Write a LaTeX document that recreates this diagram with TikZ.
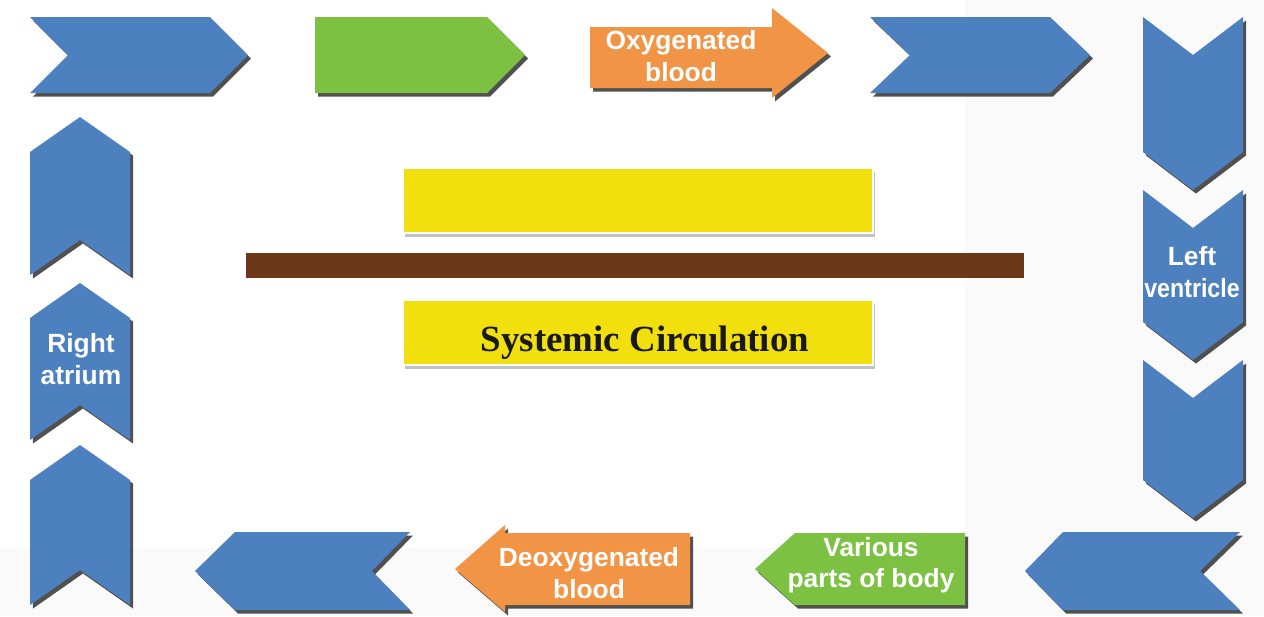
\documentclass[tikz,border=0pt]{standalone}
\usepackage{fontspec}
\newfontfamily\labelfont{Liberation Sans}
\newfontfamily\titlefont{Liberation Serif}
\usetikzlibrary{shadows}
\definecolor{chevblue}{HTML}{4C80BF}
\definecolor{leafgreen}{HTML}{7CC142}
\definecolor{bloodorange}{HTML}{F29446}
\definecolor{boxyellow}{HTML}{F2E00E}
\definecolor{barbrown}{HTML}{6B3719}
\begin{document}
\begin{tikzpicture}[x=0.02cm, y=-0.02cm,
    darkshadow/.style={drop shadow={shadow xshift=0.06cm, shadow yshift=-0.07cm, opacity=0.8, fill=black!85}},
    bluefill/.style={fill=chevblue, darkshadow},
    greenfill/.style={fill=leafgreen, darkshadow},
    orangefill/.style={fill=bloodorange, darkshadow},
    yellowbox/.style={fill=boxyellow, draw=white, line width=0.05cm,
        drop shadow={shadow xshift=0.03cm, shadow yshift=-0.07cm, opacity=0.4, fill=black!60}},
    whitetext/.style={text=white, align=center, inner sep=0pt,
        font=\labelfont\bfseries\fontsize{15}{18}\selectfont},
    titletext/.style={text=black!90, inner sep=0pt,
        font=\titlefont\bfseries\fontsize{21}{24}\selectfont}]
    \useasboundingbox (0,0) rectangle (1264,616);
    % light backdrop right and bottom
    \fill[black!2] (965,0) rectangle (1264,616);
    \fill[black!2] (0,548) rectangle (965,616);
    % Top row
    \fill[bluefill] (30,17) -- (210,17) -- (248,55) -- (210,93) -- (30,93) -- (68,55) -- cycle;
    \fill[greenfill] (315,17) -- (487,17) -- (525,55) -- (487,93) -- (315,93) -- cycle;
    \fill[orangefill] (590,27) -- (772,27) -- (772,8) -- (828,53) -- (772,98) -- (772,88) -- (590,88) -- cycle;
    \node[whitetext] (oxy) at (681,56) {Oxygenated\\blood};
    \fill[bluefill] (870,17) -- (1050,17) -- (1090,55) -- (1050,93) -- (870,93) -- (910,55) -- cycle;
    % Right column
    \fill[bluefill] (1143,17) -- (1193,55) -- (1243,17) -- (1243,152) -- (1193,190) -- (1143,152) -- cycle;
    \fill[bluefill] (1143,190) -- (1193,228) -- (1243,190) -- (1243,322) -- (1193,360) -- (1143,322) -- cycle;
    \node[whitetext] (lv) at (1192,272) {Left\\\scalebox{0.88}[1]{ventricle}};
    \fill[bluefill] (1143,360) -- (1193,398) -- (1243,360) -- (1243,480) -- (1193,518) -- (1143,480) -- cycle;
    % Bottom row
    \fill[bluefill] (1025,571) -- (1063,532) -- (1240,532) -- (1200,571) -- (1240,610) -- (1063,610) -- cycle;
    \fill[greenfill] (755,569) -- (795,533) -- (965,533) -- (965,605) -- (795,605) -- cycle;
    \node[whitetext] (body) at (871,565) {Various\\parts of body};
    \fill[orangefill] (455,569) -- (505,525) -- (505,533) -- (690,533) -- (690,605) -- (505,605) -- (505,612) -- cycle;
    \node[whitetext] (deoxy) at (589,573) {Deoxygenated\\blood};
    \fill[bluefill] (195,571) -- (235,532) -- (410,532) -- (372,571) -- (410,610) -- (235,610) -- cycle;
    % Left column
    \fill[bluefill] (80,445) -- (130,480) -- (130,605) -- (80,570) -- (30,605) -- (30,480) -- cycle;
    \fill[bluefill] (80,283) -- (130,318) -- (130,440) -- (80,405) -- (30,440) -- (30,318) -- cycle;
    \node[whitetext] (ra) at (81,359) {Right\\atrium};
    \fill[bluefill] (80,117) -- (130,152) -- (130,275) -- (80,240) -- (30,275) -- (30,152) -- cycle;
    % Centre
    \draw[yellowbox] (403,168) rectangle (873,233);
    \fill[barbrown] (246,253) rectangle (1024,278);
    \draw[yellowbox] (403,300) rectangle (873,365);
    \node[titletext] (sys) at (645,343) {Systemic Circulation};
\end{tikzpicture}
\end{document}
